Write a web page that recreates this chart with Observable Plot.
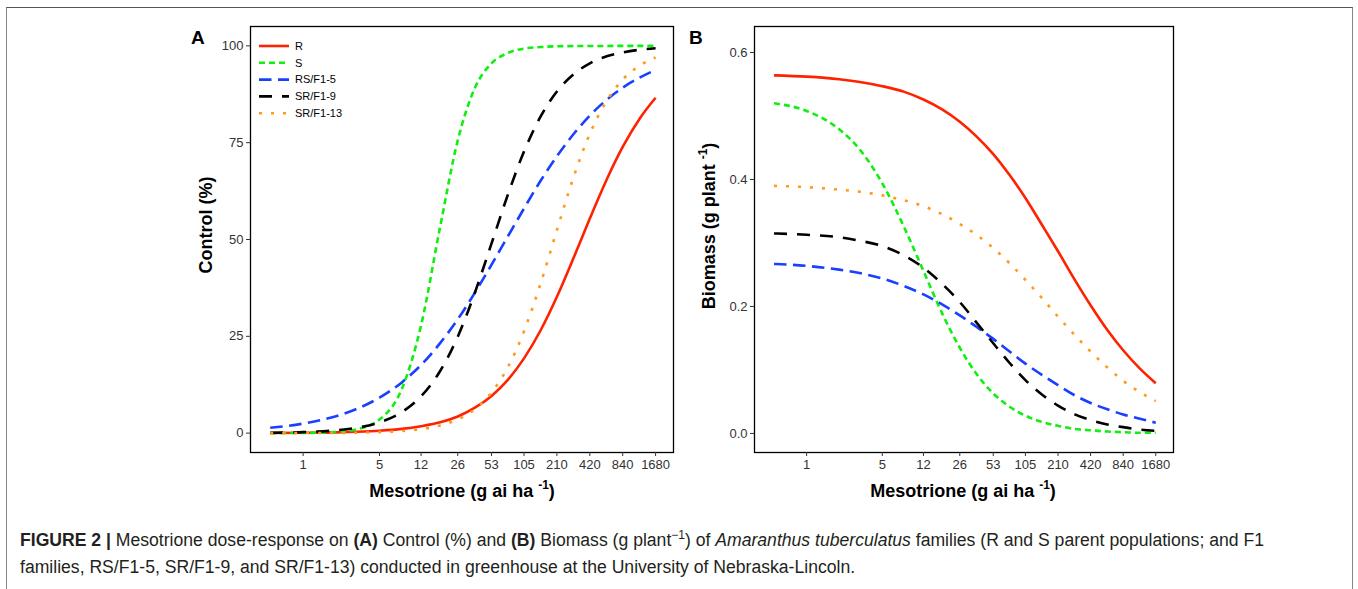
<!DOCTYPE html>
<html><head><meta charset="utf-8">
<script src="https://cdn.jsdelivr.net/npm/d3@7"></script>
<script src="https://cdn.jsdelivr.net/npm/@observablehq/plot@0.6"></script>
<style>
body{margin:0;background:#fff;font-family:"Liberation Sans",Arial,sans-serif;}
#wrap{position:relative;width:1358px;height:589px;overflow:hidden;background:#fff;}
#border{position:absolute;left:6px;top:7px;width:1347px;height:640px;border:1.5px solid #888;border-top-color:#555;box-sizing:border-box;}
.plot{position:absolute;top:0;}
.plab{position:absolute;font-weight:bold;font-size:19px;color:#000;line-height:1;}
.xt{position:absolute;font-weight:bold;font-size:18px;color:#000;white-space:nowrap;transform:translate(-50%,-50%);line-height:1;}
.xt sup{font-size:12px;vertical-align:0;position:relative;top:-8px;}
#caption{position:absolute;left:20px;top:527px;font-size:17.6px;line-height:27px;color:#231f20;white-space:nowrap;}
#caption sup{font-size:12px;line-height:0;}
svg.ov{position:absolute;left:0;top:0;overflow:visible;}
</style></head><body>
<div id="wrap">
  <div id="border"></div>
  <div id="pA" class="plot" style="left:180px"></div>
  <div id="pB" class="plot" style="left:680px"></div>
  <div class="plab" style="left:191px;top:28px">A</div>
  <div class="plab" style="left:689px;top:28px">B</div>
  <div class="xt" style="left:462px;top:491px">Mesotrione (g ai ha <sup>-1</sup>)</div>
  <div class="xt" style="left:963px;top:491px">Mesotrione (g ai ha <sup>-1</sup>)</div>
  <svg class="ov" width="1358" height="589" id="ov"></svg>
  <div id="caption"><b>FIGURE 2 |</b> Mesotrione dose-response on <b>(A)</b> Control (%) and <b>(B)</b> Biomass (g plant<sup>−1</sup>) of <i>Amaranthus tuberculatus</i> families (R and S parent populations; and F1<br>families, RS/F1-5, SR/F1-9, and SR/F1-13) conducted in greenhouse at the University of Nebraska-Lincoln.</div>
</div>
<script>
// ---- data ----
const doses = [0.5,1,2,3,5,8,12,18,26,37,53,75,105,150,210,300,420,600,840,1200,1680];
const seriesNames = ["R","S","RS/F1-5","SR/F1-9","SR/F1-13"];
const xTickValues = [1,5,12,26,53,105,210,420,840,1680];
const controlTicks = [0,25,50,75,100];
const biomassTicks = [0,0.2,0.4,0.6];

const controlR    = [0.04,0.09,0.2,0.35,0.63,1.1,1.8,2.8,4.3,6.5,9.6,13.8,19.3,26.7,35.2,45.4,55.4,65.5,73.9,81.2,86.6];
const controlS    = [0.01,0.05,0.3,0.9,3.5,11.4,27.8,53.5,75.6,88.9,95.5,98.2,99.3,99.7,99.9,99.95,99.97,99.98,99.99,99.99,100];
const controlRS5  = [1.37,2.46,4.39,6.1,9.16,13.1,17.6,23.3,29.4,36.1,43.5,50.9,58.0,65.3,71.5,77.3,82.0,86.1,89.2,91.8,93.8];
const controlSR9  = [0.09,0.26,0.72,1.31,2.76,5.42,9.5,16.1,24.9,36.0,49.0,61.7,72.7,81.9,88.2,92.7,95.5,97.3,98.3,99.0,99.4];
const controlSR13 = [0.01,0.02,0.06,0.11,0.25,0.54,1.04,1.99,3.55,6.1,10.5,17.1,26.3,38.9,52.4,66.3,77.3,85.8,91.3,94.9,97.0];

const biomassR    = [0.564,0.562,0.558,0.554,0.547,0.538,0.526,0.510,0.491,0.468,0.440,0.407,0.371,0.328,0.287,0.242,0.202,0.163,0.131,0.102,0.079];
const biomassS    = [0.520,0.508,0.479,0.450,0.394,0.324,0.256,0.188,0.135,0.094,0.063,0.042,0.028,0.018,0.012,0.007,0.005,0.003,0.002,0.001,0.001];
const biomassRS5  = [0.267,0.264,0.258,0.253,0.244,0.232,0.219,0.203,0.186,0.168,0.149,0.129,0.110,0.092,0.076,0.060,0.048,0.038,0.030,0.023,0.017];
const biomassSR9  = [0.315,0.313,0.309,0.304,0.295,0.280,0.261,0.235,0.207,0.175,0.142,0.111,0.084,0.061,0.044,0.030,0.021,0.014,0.010,0.006,0.004];
const biomassSR13 = [0.390,0.388,0.384,0.381,0.375,0.367,0.358,0.345,0.330,0.313,0.292,0.268,0.242,0.213,0.184,0.155,0.129,0.104,0.083,0.065,0.051];

// ---- styles ----
const styles = {
  "R":        {stroke:"#ff2200", dash:null},
  "S":        {stroke:"#11ee11", dash:"6,4"},
  "RS/F1-5":  {stroke:"#1a40ff", dash:"12.5,6.5"},
  "SR/F1-9":  {stroke:"#000000", dash:"13,10"},
  "SR/F1-13": {stroke:"#ff9a1a", dash:"3,9"}
};
const LW = 2.6;
const FONT = "'Liberation Sans', Arial, sans-serif";

function rows(seriesArrays) {
  const out = [];
  seriesNames.forEach((name, i) => {
    doses.forEach((d, j) => out.push({series:name, dose:d, value:seriesArrays[i][j]}));
  });
  return out;
}

function panel(data, yDomain, yTicks, yFmt, marginLeft) {
  const lines = seriesNames.map(name => Plot.line(data.filter(r => r.series === name), {
    x:"dose", y:"value", stroke:styles[name].stroke, strokeWidth:LW,
    strokeDasharray:styles[name].dash || undefined, strokeLinecap:"butt",
    curve:"monotone-x"
  }));
  return Plot.plot({
    width:500, height:520,
    marginLeft, marginRight:7, marginTop:26, marginBottom:68,
    x:{type:"log", domain:[0.33,2450]},
    y:{domain:yDomain},
    style:{fontFamily:FONT, fontSize:"13px", color:"#333", background:"transparent"},
    marks:[
      ...lines,
      Plot.frame({stroke:"#000", strokeWidth:1.3}),
      // tick marks from the axis, labels drawn as text (log axes drop custom labels)
      Plot.axisX(xTickValues, {tickSize:4, tickFormat:() => "", label:null}),
      Plot.text(xTickValues, {x:d => d, frameAnchor:"bottom", dy:16, text:d => String(d),
        fontSize:13, fill:"#333"}),
      Plot.axisY(yTicks, {tickSize:4, tickPadding:3, tickFormat:yFmt, label:null, fontSize:13})
    ]
  });
}

document.getElementById("pA").append(panel(
  rows([controlR, controlS, controlRS5, controlSR9, controlSR13]),
  [-5,105], controlTicks, d => String(d), 70));
document.getElementById("pB").append(panel(
  rows([biomassR, biomassS, biomassRS5, biomassSR9, biomassSR13]),
  [-0.03,0.641], biomassTicks, d3.format(".1f"), 74));

// ---- overlays: y titles and legend ----
const ov = d3.select("#ov");
function yTitle(x, y, parts) {
  const t = ov.append("text").attr("transform", `translate(${x},${y}) rotate(-90)`)
    .attr("text-anchor","middle").attr("font-family",FONT)
    .attr("font-weight","bold").attr("font-size",18).attr("fill","#000");
  parts.forEach(p => {
    const s = t.append("tspan").text(p.t);
    if (p.sup) s.attr("font-size",12).attr("dy",-8);
    if (p.after) s.attr("dy",8);
  });
}
yTitle(212, 225, [{t:"Control (%)"}]);
yTitle(715, 226, [{t:"Biomass (g plant "},{t:"-1",sup:true},{t:")",after:true}]);

const lg = ov.append("g").attr("font-family",FONT).attr("font-size",11);
seriesNames.forEach((name, i) => {
  const y = 46 + i*16.8;
  lg.append("line").attr("x1",259).attr("x2",289).attr("y1",y).attr("y2",y)
    .attr("stroke",styles[name].stroke).attr("stroke-width",LW)
    .attr("stroke-dasharray",styles[name].dash || null);
  lg.append("text").attr("x",295).attr("y",y).attr("dy","0.35em").attr("fill","#000").text(name);
});
</script>
</body></html>
